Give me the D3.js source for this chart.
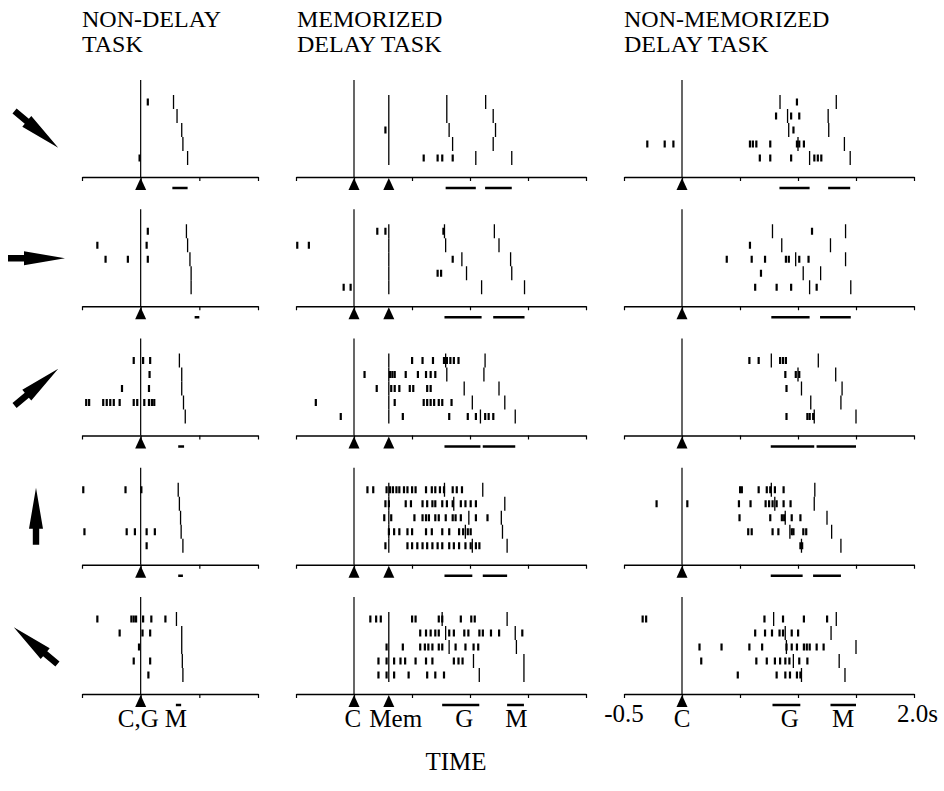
<!DOCTYPE html>
<html>
<head>
<meta charset="utf-8">
<script src="https://cdn.jsdelivr.net/npm/d3@7"></script>
<style>
  body { margin: 0; background: #fff; }
  svg text { font-family: "Liberation Serif", "DejaVu Serif", serif; fill: #000; }
</style>
</head>
<body>
<svg id="chart" width="944" height="791"></svg>
<script>
// ---- Task titles and target directions (degrees, counter-clockwise from right) ----
const taskTitles = [["NON-DELAY", "TASK"], ["MEMORIZED", "DELAY TASK"], ["NON-MEMORIZED", "DELAY TASK"]];
const targetDirections = [-40, 0, 40, 90, 140];

// ---- Time axes (s, relative to cue C) ----
const nonDelayTicks = [-0.5, 0, 0.5, 1.0];
const delayTicks = [-0.5, 0, 0.5, 1.0, 1.5, 2.0];
const memCue = 0.3; // "Mem" marker in the memorized delay task

// ---- Non-delay task: spikes per direction, per trial; movement onset per trial ----
const nonDelaySpikes = [
  [[0.06], [], [], [], [-0.01]],
  [[0.06], [-0.37, 0.05], [-0.30, -0.11, 0.06], [], []],
  [[-0.06, 0.02, 0.08], [0.075], [-0.16, 0.07],
   [-0.465, -0.44, -0.32, -0.29, -0.26, -0.23, -0.18, -0.06, -0.03, 0.03, 0.07, 0.095, 0.115], []],
  [[-0.49, -0.13, 0.005], [], [], [-0.48, -0.12, -0.05, 0.05, 0.12], [0.05]],
  [[-0.37, -0.08, -0.06, -0.04, 0.02, 0.09, 0.21], [-0.18, 0.015, 0.08], [-0.015], [-0.06, 0.08], [0.065]]
];
const nonDelayMove = [
  [0.28, 0.31, 0.35, 0.36, 0.40],
  [0.39, 0.40, 0.42, 0.43, 0.43],
  [0.33, 0.35, 0.35, 0.365, 0.38],
  [0.32, 0.33, 0.34, 0.345, 0.36],
  [0.305, 0.35, 0.35, 0.355, 0.36]
];
const nonDelayMoveBar = [[0.27, 0.40], [0.46, 0.50], [0.32, 0.37], [0.32, 0.36], [0.30, 0.345]];

// ---- Memorized delay task ----
const memSpikes = [
  [[], [], [0.27], [], [0.60, 0.72, 0.76, 0.85]],
  [[0.20, 0.27, 0.77], [-0.49, -0.39], [0.85], [0.72, 0.75], [-0.09, -0.03]],
  [[0.50, 0.59, 0.68, 0.775, 0.80, 0.83, 0.86, 0.90],
   [0.09, 0.31, 0.33, 0.35, 0.445, 0.55, 0.62, 0.66, 0.70],
   [0.195, 0.32, 0.35, 0.39, 0.48, 0.51, 0.63, 0.66],
   [-0.33, 0.35, 0.60, 0.63, 0.66, 0.69, 0.73, 0.76, 0.84],
   [-0.115, 0.42, 0.82, 0.98, 1.05, 1.13, 1.16, 1.20]],
  [[0.115, 0.165, 0.28, 0.31, 0.335, 0.365, 0.39, 0.43, 0.46, 0.50, 0.53, 0.62, 0.67, 0.70, 0.74, 0.775, 0.85, 0.885, 0.93],
   [0.27, 0.30, 0.445, 0.49, 0.59, 0.63, 0.675, 0.70, 0.76, 0.80, 0.85, 0.92, 0.96, 1.005, 1.05],
   [0.26, 0.32, 0.52, 0.59, 0.62, 0.645, 0.70, 0.73, 0.79, 0.85, 0.875, 0.92, 1.05, 1.15],
   [0.30, 0.345, 0.39, 0.46, 0.50, 0.62, 0.67, 0.76, 0.82, 0.905, 0.94, 0.98, 1.005],
   [0.27, 0.46, 0.50, 0.545, 0.59, 0.63, 0.675, 0.72, 0.76, 0.82, 0.86, 0.905, 0.96, 1.005, 1.05, 1.08]],
  [[0.14, 0.19, 0.23, 0.50, 0.53, 0.73, 0.76, 0.92, 1.01, 1.04],
   [0.57, 0.62, 0.66, 0.70, 0.73, 0.82, 0.86, 0.95, 0.985, 1.08, 1.11, 1.18, 1.25, 1.45],
   [0.28, 0.42, 0.57, 0.61, 0.64, 0.675, 0.73, 0.76, 0.875, 0.96, 1.03, 1.07],
   [0.21, 0.28, 0.345, 0.40, 0.44, 0.53, 0.62, 0.675, 0.86, 0.90, 0.935],
   [0.21, 0.28, 0.345, 0.47, 0.63, 0.70, 0.775]]
];
const memGo = [
  [0.80, 0.80, 0.82, 0.85, 1.05],
  [0.78, 0.79, 0.93, 0.97, 1.10],
  [0.79, 0.80, 0.95, 1.02, 1.09],
  [0.78, 0.86, 0.99, 0.96, 1.02],
  [0.76, 0.79, 0.82, 1.03, 1.08]
];
const memMove = [
  [1.135, 1.20, 1.22, 1.20, 1.36],
  [1.21, 1.25, 1.35, 1.36, 1.47],
  [1.13, 1.12, 1.25, 1.30, 1.39],
  [1.11, 1.30, 1.27, 1.28, 1.32],
  [1.32, 1.39, 1.40, 1.465, 1.465]
];
const memGoBar = [[0.79, 1.05], [0.78, 1.10], [0.78, 1.09], [0.78, 1.02], [0.76, 1.08]];
const memMoveBar = [[1.13, 1.36], [1.20, 1.47], [1.11, 1.39], [1.11, 1.32], [1.32, 1.465]];

// ---- Non-memorized delay task ----
const nonMemSpikes = [
  [[0.99], [0.81, 0.94, 1.01], [0.96],
   [-0.30, -0.15, -0.075, 0.585, 0.61, 0.64, 0.76, 0.99, 1.01, 1.05], [0.67, 0.76, 0.94, 1.14, 1.17, 1.20]],
  [[1.12], [0.585], [0.385, 0.60, 0.715, 0.895, 0.92, 1.01, 1.09], [0.68], [0.63, 0.815, 0.94, 1.16]],
  [[0.58, 0.66, 0.845, 0.87, 0.895], [0.89, 0.98, 1.01], [0.90], [], [0.90, 1.08, 1.10, 1.13]],
  [[0.50, 0.515, 0.66, 0.73, 0.76, 0.80, 0.875],
   [-0.22, 0.045, 0.49, 0.59, 0.72, 0.75, 0.78, 0.815, 0.875, 0.935],
   [0.495, 0.76, 0.86, 0.88, 0.945, 1.02],
   [0.57, 0.60, 0.78, 0.83, 0.945, 0.96, 1.045, 1.07], [1.02, 1.035]],
  [[-0.34, -0.31, 0.71, 0.87, 1.05, 1.25],
   [0.63, 0.715, 0.775, 0.84, 0.87, 0.945, 1.00],
   [0.15, 0.34, 0.58, 0.69, 0.90, 0.945, 0.99, 1.05, 1.075, 1.10, 1.16, 1.22],
   [0.165, 0.64, 0.73, 0.80, 0.845, 0.89, 0.925, 1.01, 1.08],
   [0.48, 0.815, 0.89, 0.93, 0.99, 1.02]]
];
const nonMemGo = [
  [0.845, 0.91, 0.92, 1.00, 1.10],
  [0.78, 0.86, 0.98, 1.045, 1.10],
  [0.77, 1.00, 1.03, 1.11, 1.14],
  [0.77, 0.80, 0.89, 0.93, 1.03],
  [0.79, 0.89, 0.90, 0.96, 1.03]
];
const nonMemMove = [
  [1.33, 1.26, 1.265, 1.40, 1.45],
  [1.41, 1.28, 1.41, 1.195, 1.455],
  [1.175, 1.325, 1.38, 1.37, 1.50],
  [1.145, 1.14, 1.25, 1.29, 1.37],
  [1.33, 1.285, 1.50, 1.355, 1.405]
];
const nonMemGoBar = [[0.84, 1.10], [0.77, 1.10], [0.765, 1.14], [0.765, 1.04], [0.78, 1.02]];
const nonMemMoveBar = [[1.26, 1.45], [1.19, 1.455], [1.16, 1.50], [1.13, 1.37], [1.28, 1.50]];

// ---- Event labels under the bottom row ----
const nonDelayLabelText = ["C,G", "M"];
const nonDelayLabelAt = [-0.02, 0.30];
const memLabelText = ["C", "Mem", "G", "M"];
const memLabelAt = [-0.01, 0.36, 0.95, 1.40];
const nonMemLabelText = ["-0.5", "C", "G", "M", "2.0s"];
const nonMemLabelAt = [-0.5, 0, 0.93, 1.39, 2.03];

// ------------------------------------------------------------------
const serif = "'Liberation Serif', 'DejaVu Serif', serif";
const svg = d3.select("#chart");
const columnDomains = [[-0.5, 1.0], [-0.5, 2.0], [-0.5, 2.0]];
const columnRanges = [[82, 258], [296, 586], [624, 914]];
const titleX = [82, 297, 624];
const xs = columnDomains.map((d, i) => d3.scaleLinear().domain(d).range(columnRanges[i]));
const rowY = d3.scaleLinear().domain([0, 4]).range([177, 694]);   // axis baseline of each row
const trialY = d3.scaleLinear().domain([0, 4]).range([-75, -19]);  // trial rows above the axis

const memCueMarks = memGo.map(row => row.map(() => memCue));

const columns = [
  { spikes: nonDelaySpikes, events: [nonDelayMove], bars: [nonDelayMoveBar], cues: [0], ticks: nonDelayTicks,
    labels: nonDelayLabelText, labelAt: nonDelayLabelAt },
  { spikes: memSpikes, events: [memCueMarks, memGo, memMove], bars: [memGoBar, memMoveBar], cues: [0, memCue],
    ticks: delayTicks, labels: memLabelText, labelAt: memLabelAt },
  { spikes: nonMemSpikes, events: [nonMemGo, nonMemMove], bars: [nonMemGoBar, nonMemMoveBar], cues: [0],
    ticks: delayTicks, labels: nonMemLabelText, labelAt: nonMemLabelAt }
];

// Titles: two lines per task
columns.forEach((col, c) => {
  taskTitles[c].forEach((line, i) => {
    svg.append("text")
      .attr("x", titleX[c])
      .attr("y", 27 + i * 25)
      .attr("font-family", serif)
      .attr("font-size", 24)
      .text(line);
  });
});

// Panels
columns.forEach((col, c) => {
  const x = xs[c];
  d3.range(5).forEach(r => {
    const g = svg.append("g").attr("transform", `translate(0,${rowY(r)})`);

    // cue line
    g.append("line")
      .attr("x1", x(0)).attr("x2", x(0))
      .attr("y1", -97).attr("y2", 0)
      .attr("stroke", "#000").attr("stroke-width", 1.2);

    // time axis
    g.append("g")
      .call(d3.axisBottom(x).tickValues(col.ticks).tickSize(4).tickSizeOuter(0).tickFormat(""))
      .call(a => a.select(".domain").attr("stroke-width", 1.6))
      .call(a => a.selectAll(".tick line").attr("stroke-width", 1.2));

    // spikes
    const spikeData = col.spikes[r].flatMap((ts, i) => ts.map(t => ({ t, i })));
    g.selectAll("rect.spike").data(spikeData).join("rect")
      .attr("class", "spike")
      .attr("x", d => x(d.t) - 1)
      .attr("y", d => trialY(d.i) - 3.5)
      .attr("width", 2.2)
      .attr("height", 7)
      .attr("fill", "#000");

    // per-trial event markers
    col.events.forEach((ev, k) => {
      g.selectAll(`line.ev${k}`).data(ev[r].map((t, i) => ({ t, i }))).join("line")
        .attr("class", `ev${k}`)
        .attr("x1", d => x(d.t)).attr("x2", d => x(d.t))
        .attr("y1", d => trialY(d.i) - 7).attr("y2", d => trialY(d.i) + 7)
        .attr("stroke", "#000").attr("stroke-width", 1.3);
    });

    // event ranges below the axis
    col.bars.forEach(b => {
      g.append("line")
        .attr("x1", x(b[r][0])).attr("x2", x(b[r][1]))
        .attr("y1", 11).attr("y2", 11)
        .attr("stroke", "#000").attr("stroke-width", 2.5);
    });

    // cue triangles
    g.selectAll("path.cue").data(col.cues).join("path")
      .attr("class", "cue")
      .attr("d", t => `M${x(t)},1 L${x(t) - 5.5},13 L${x(t) + 5.5},13 Z`)
      .attr("fill", "#000");
  });

  // event labels under the last row
  svg.selectAll(`text.lab${c}`).data(col.labels).join("text")
    .attr("class", `lab${c}`)
    .attr("x", (d, i) => x(col.labelAt[i]))
    .attr("y", d => /[0-9]/.test(d) ? 722 : 727)
    .attr("text-anchor", "middle")
    .attr("font-family", serif)
    .attr("font-size", 25)
    .text(d => d);
});

// Direction arrows
const arrowShape = [[-28, -3.2], [-12, -3.2], [-12, -7], [29, 0], [-12, 7], [-12, 3.2], [-28, 3.2]];
svg.selectAll("polygon.dir").data(targetDirections).join("polygon")
  .attr("class", "dir")
  .attr("points", arrowShape.map(p => p.join(",")).join(" "))
  .attr("transform", (a, r) => `translate(36,${rowY(r) - 48}) rotate(${-a})`)
  .attr("fill", "#000");

// Axis title
svg.append("text")
  .attr("x", 456).attr("y", 770)
  .attr("text-anchor", "middle")
  .attr("font-family", serif)
  .attr("font-size", 25)
  .text("TIME");
</script>
</body>
</html>
